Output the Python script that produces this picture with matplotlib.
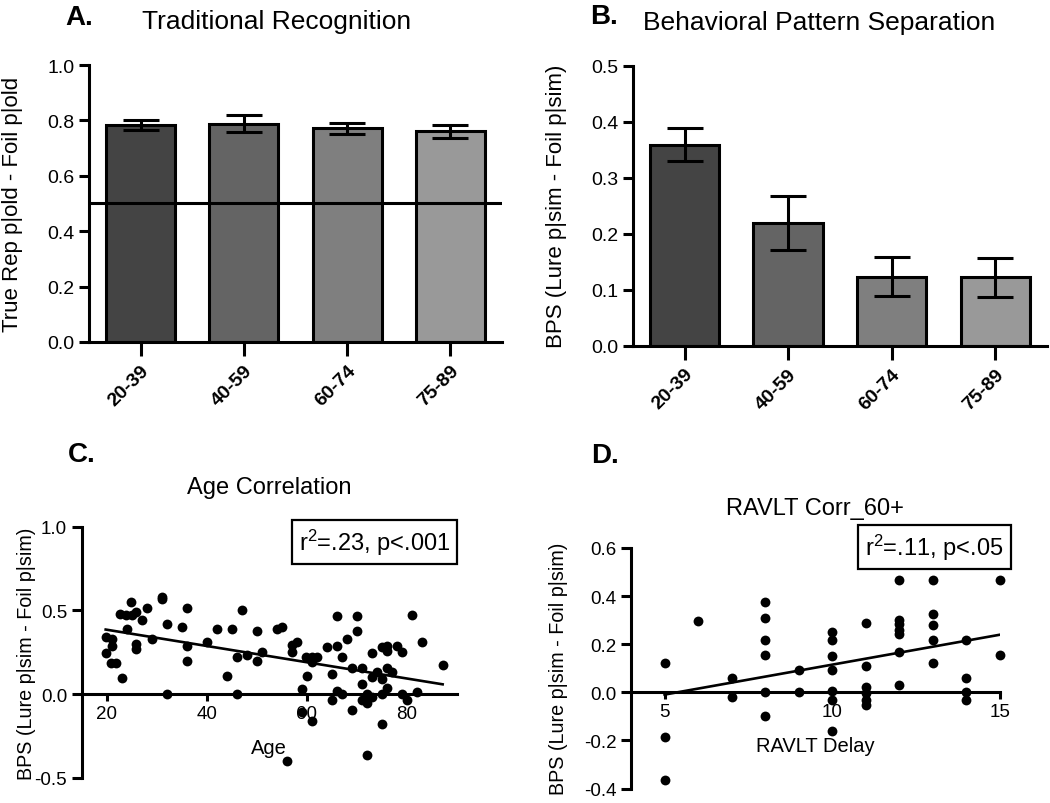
import numpy as np
import matplotlib
matplotlib.use("Agg")
import matplotlib.pyplot as plt

plt.rcParams['font.family'] = ['Liberation Sans', 'DejaVu Sans']
plt.rcParams['mathtext.fontset'] = 'custom'
plt.rcParams['mathtext.rm'] = 'Liberation Sans'
plt.rcParams['mathtext.it'] = 'Liberation Sans:italic'

# --- data ---
groups = ["20-39", "40-59", "60-74", "75-89"]
bar_colors = ["#444444", "#646464", "#7f7f7f", "#999999"]

trad_mean = [0.783, 0.788, 0.771, 0.760]
trad_err = [0.017, 0.030, 0.019, 0.023]

bps_mean = [0.359, 0.219, 0.123, 0.122]
bps_err = [0.029, 0.049, 0.035, 0.035]

age_c = [19.8, 19.9, 21.0, 21.0, 20.8, 21.9, 23.0, 22.7, 23.8, 24.9, 25.0, 24.0,
         25.9, 25.8, 25.8, 27.0, 28.0, 29.0, 31.0, 31.1, 32.0, 32.0, 35.0, 36.0,
         36.0, 36.0, 40.0, 42.0, 44.0, 45.0, 46.0, 46.0, 47.0, 48.0, 50.0, 50.0,
         51.0, 54.0, 55.0, 57.0, 57.0, 58.0, 59.0, 59.0, 59.8, 60.0, 61.0, 61.0,
         61.0, 62.0, 64.0, 65.0, 65.0, 66.0, 66.0, 66.0, 67.0, 67.0, 68.0, 69.0,
         69.0, 70.0, 70.0, 71.0, 71.0, 71.0, 72.0, 72.0, 72.1, 73.1, 73.1, 73.1,
         74.1, 75.1, 75.1, 75.1, 75.1, 76.1, 76.1, 76.1, 76.1, 77.1, 78.1, 79.1,
         79.1, 80.1, 81.1, 82.1, 83.1, 87.2, 56.0]
bps_c = [0.341, 0.248, 0.327, 0.290, 0.187, 0.187, 0.097, 0.480, 0.470, 0.550,
         0.470, 0.390, 0.490, 0.300, 0.268, 0.440, 0.514, 0.327, 0.570, 0.580,
         0.420, 0.000, 0.400, 0.514, 0.290, 0.200, 0.310, 0.390, 0.107, 0.390,
         0.220, 0.000, 0.500, 0.236, 0.375, 0.200, 0.252, 0.390, 0.400, 0.252,
         0.296, 0.310, 0.034, -0.105, 0.220, 0.110, 0.220, 0.190, -0.160, 0.220,
         0.280, 0.123, -0.032, 0.466, 0.290, 0.020, 0.220, 0.000, 0.327, -0.095,
         0.157, 0.466, 0.375, 0.157, 0.063, -0.032, 0.000, -0.050, -0.360, 0.248,
         0.100, -0.016, 0.130, 0.280, 0.093, -0.180, 0.000, 0.290, 0.258, 0.157,
         0.038, 0.130, 0.290, 0.252, 0.000, -0.032, 0.470, 0.014, 0.310, 0.173,
         -0.400]
age_fit = [-0.00485, 0.482]  # slope, intercept

ravlt_d = [5, 5, 5, 6, 7, 7, 8, 8, 8, 8, 8, 8, 9, 9,
           10, 10, 10, 10, 10, 10, 10, 11, 11, 11, 11, 11, 11,
           12, 12, 12, 12, 12, 12, 12, 13, 13, 13, 13, 13,
           14, 14, 14, 14, 15, 15]
bps_d = [0.122, -0.186, -0.366, 0.295, 0.061, -0.020, 0.375, 0.310, 0.217, 0.154,
         0.000, -0.098, 0.091, 0.000,
         0.250, 0.217, 0.149, 0.091, 0.007, -0.034, -0.160,
         0.287, 0.108, 0.020, -0.004, -0.034, -0.054,
         0.467, 0.302, 0.284, 0.261, 0.244, 0.169, 0.030,
         0.467, 0.325, 0.278, 0.217, 0.122,
         0.217, 0.058, 0.000, -0.034, 0.467, 0.154]
ravlt_fit = [0.0249, -0.134]  # slope, intercept

LW = 2.2

fig = plt.figure(figsize=(10.5, 8.04), dpi=100)


def style_axes(ax, tick_size):
    for s in ["top", "right"]:
        ax.spines[s].set_visible(False)
    for s in ["left", "bottom"]:
        ax.spines[s].set_linewidth(LW)
    ax.tick_params(axis="both", width=LW, length=7, labelsize=tick_size, direction="out")


def bar_panel(rect, means, errs, ylim, yticks, ylabel, label_x, hline=None):
    ax = fig.add_axes(rect)
    x = np.arange(len(groups))
    ax.bar(x, means, width=0.67, color=bar_colors, edgecolor="black", linewidth=LW, zorder=2)
    ax.errorbar(x, means, yerr=errs, fmt="none", ecolor="black", elinewidth=LW,
                capsize=13, capthick=LW, zorder=3)
    if hline is not None:
        ax.axhline(hline, color="black", linewidth=LW, zorder=4)
    ax.set_xlim(-0.5, 3.5)
    ax.set_ylim(*ylim)
    ax.set_yticks(yticks)
    ax.set_yticklabels(["%.1f" % v for v in yticks])
    ax.set_xticks(x)
    ax.set_xticklabels(groups, rotation=45, ha="right", rotation_mode="anchor",
                       fontweight="bold", fontsize=15)
    style_axes(ax, 14)
    ax.tick_params(axis="x", length=10, pad=4)
    ax.set_ylabel(ylabel, fontsize=16)
    ax.yaxis.set_label_coords(label_x, 0.5)
    return ax


bar_panel([0.0848, 0.5734, 0.3933, 0.3445], trad_mean, trad_err, (0, 1.0),
          [0.0, 0.2, 0.4, 0.6, 0.8, 1.0], "True Rep p|old - Foil p|old", -0.160, hline=0.5)
bar_panel([0.6026, 0.5688, 0.3946, 0.3483], bps_mean, bps_err, (0, 0.5),
          [0.0, 0.1, 0.2, 0.3, 0.4, 0.5], "BPS (Lure p|sim - Foil p|sim)", -0.158)


def scatter_panel(rect, xs, ys, fit, xlim, xticks, ylim, yticks, xlabel, label_x, label_y,
                  stat_text, stat_xy, yfmt):
    ax = fig.add_axes(rect)
    ax.scatter(xs, ys, s=50, color="black", zorder=4, clip_on=False, linewidths=0)
    xf = np.array([min(xs), max(xs)])
    ax.plot(xf, fit[0] * xf + fit[1], color="black", linewidth=1.9, zorder=3)
    ax.set_xlim(*xlim)
    ax.set_ylim(*ylim)
    ax.set_xticks(xticks)
    ax.set_yticks(yticks)
    ax.set_yticklabels([yfmt % v for v in yticks])
    style_axes(ax, 13.5)
    ax.spines["bottom"].set_position(("data", 0))
    ax.tick_params(axis="x", length=5, pad=3)
    ax.set_xlabel(xlabel, fontsize=14.5, labelpad=11)
    ax.set_ylabel("BPS (Lure p|sim - Foil p|sim)", fontsize=14.2)
    ax.yaxis.set_label_coords(label_x, label_y)
    ax.text(stat_xy[0], stat_xy[1], stat_text, fontsize=17, ha="center", va="center",
            clip_on=False, zorder=5,
            bbox=dict(boxstyle="square,pad=0.3", facecolor="white", edgecolor="black",
                      linewidth=1.6))
    return ax


scatter_panel([0.0778, 0.0311, 0.3571, 0.3126], age_c, bps_c, age_fit, (15, 90),
              [20, 40, 60, 80], (-0.5, 1.0), [-0.5, 0.0, 0.5, 1.0], "Age", -0.121, 0.5,
              r"r$^{2}$=.23, p<.001", (73.6, 0.907), "%.1f")
scatter_panel([0.6010, 0.0180, 0.3514, 0.2992], ravlt_d, bps_d, ravlt_fit, (4, 15),
              [5, 10, 15], (-0.4, 0.6), [-0.4, -0.2, 0.0, 0.2, 0.4, 0.6], "RAVLT Delay",
              -0.172, 0.5, r"r$^{2}$=.11, p<.05", (13.05, 0.603), "%.1f")

# panel letters and titles
fig.text(0.0619, 0.969, "A.", fontsize=20, fontweight="bold", va="baseline")
fig.text(0.5619, 0.970, "B.", fontsize=20, fontweight="bold", va="baseline")
fig.text(0.0648, 0.4257, "C.", fontsize=20, fontweight="bold", va="baseline")
fig.text(0.5626, 0.4245, "D.", fontsize=20, fontweight="bold", va="baseline")
fig.text(0.263, 0.964, "Traditional Recognition", fontsize=19, ha="center", va="baseline")
fig.text(0.780, 0.9627, "Behavioral Pattern Separation", fontsize=19, ha="center", va="baseline")
fig.text(0.256, 0.3856, "Age Correlation", fontsize=17, ha="center", va="baseline")
fig.text(0.776, 0.3595, "RAVLT Corr_60+", fontsize=17, ha="center", va="baseline")

fig.savefig("out.png", dpi=100)
